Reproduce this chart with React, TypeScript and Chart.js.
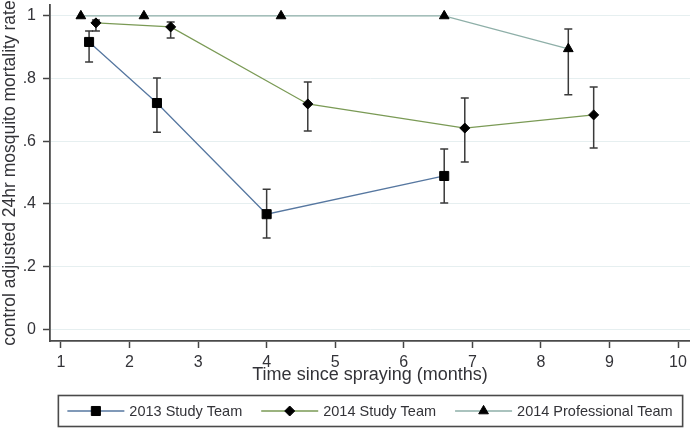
import React, { useEffect, useRef } from "react";
import { Chart, registerables } from "chart.js";
import { drawPoint } from "chart.js/helpers";

Chart.register(...registerables);

// ---- Data ----
const xTicks = [1, 2, 3, 4, 5, 6, 7, 8, 9, 10];
const yTicks = [0, 0.2, 0.4, 0.6, 0.8, 1];
const yTickLabels = ["0", ".2", ".4", ".6", ".8", "1"];
const seriesNames = ["2013 Study Team", "2014 Study Team", "2014 Professional Team"];

const months2013 = [1.41, 2.4, 4.0, 6.59];
const rate2013 = [0.917, 0.722, 0.367, 0.489];
const low2013 = [0.853, 0.629, 0.291, 0.403];
const high2013 = [0.952, 0.802, 0.447, 0.575];

const months2014 = [1.51, 2.6, 4.6, 6.89, 8.77];
const rate2014 = [0.978, 0.965, 0.719, 0.642, 0.684];
const low2014 = [0.952, 0.93, 0.633, 0.534, 0.578];
const high2014 = [0.987, 0.981, 0.789, 0.738, 0.773];

const monthsPro = [1.29, 2.21, 4.21, 6.59, 8.4];
const ratePro = [1.0, 1.0, 1.0, 1.0, 0.895];
const lowPro: (number | null)[] = [null, null, null, null, 0.748];
const highPro: (number | null)[] = [null, null, null, null, 0.958];

const xMin = 0.84;
const xMax = 10.175;
const yMin = -0.038;
const yMax = 1.035;

const FONT = "'Liberation Sans', Arial, sans-serif";
const TEXT = "#333338";

const errorBarPlugin = {
  id: "errorBars",
  beforeDatasetsDraw(chart: any) {
    const { ctx, scales } = chart;
    const xs = scales.x;
    const ys = scales.y;
    ctx.save();
    ctx.strokeStyle = "#3a3a3a";
    ctx.lineWidth = 1.5;
    chart.data.datasets.forEach((ds: any) => {
      const lo = ds.errLow || [];
      const hi = ds.errHigh || [];
      ds.data.forEach((p: any, i: number) => {
        if (lo[i] == null || hi[i] == null) return;
        const px = xs.getPixelForValue(p.x);
        const y1 = ys.getPixelForValue(lo[i]);
        const y2 = ys.getPixelForValue(hi[i]);
        ctx.beginPath();
        ctx.moveTo(px, y1);
        ctx.lineTo(px, y2);
        ctx.moveTo(px - 4, y1);
        ctx.lineTo(px + 4, y1);
        ctx.moveTo(px - 4, y2);
        ctx.lineTo(px + 4, y2);
        ctx.stroke();
      });
    });
    ctx.restore();
  },
};

const legendPlugin = {
  id: "stataLegend",
  afterDraw(chart: any) {
    const { ctx, chartArea } = chart;
    ctx.save();
    ctx.font = `14.5px ${FONT}`;
    const symW = 57;
    const gapText = 5;
    const gapItem = 19;
    const items = chart.data.datasets.map((ds: any) => ({ ds, w: ctx.measureText(ds.label).width }));
    const total =
      items.reduce((s: number, it: any) => s + symW + gapText + it.w, 0) + gapItem * (items.length - 1);
    const cx = (chartArea.left + chartArea.right) / 2;
    let x = cx - total / 2;
    const cy = chart.height - 20;
    // border
    ctx.strokeStyle = "#4a4a4a";
    ctx.lineWidth = 1.6;
    ctx.strokeRect(x - 9, cy - 15.5, total + 19, 31);
    items.forEach((it: any) => {
      const ds = it.ds;
      ctx.strokeStyle = ds.borderColor;
      ctx.lineWidth = 1.3;
      ctx.beginPath();
      ctx.moveTo(x, cy);
      ctx.lineTo(x + symW, cy);
      ctx.stroke();
      ctx.fillStyle = "#000";
      ctx.strokeStyle = "#000";
      ctx.lineWidth = 1;
      drawPoint(ctx, { pointStyle: ds.pointStyle, radius: ds.pointRadius, rotation: 0, borderWidth: 1 }, x + symW / 2, cy);
      ctx.fillStyle = TEXT;
      ctx.textBaseline = "middle";
      ctx.textAlign = "left";
      ctx.fillText(ds.label, x + symW + gapText, cy + 1);
      x += symW + gapText + it.w + gapItem;
    });
    ctx.restore();
  },
};

function makeDataset(
  label: string,
  xs: number[],
  ys: number[],
  lo: (number | null)[],
  hi: (number | null)[],
  color: string,
  style: string,
  radius: number
) {
  return {
    label,
    data: xs.map((x, i) => ({ x, y: ys[i] })),
    errLow: lo,
    errHigh: hi,
    borderColor: color,
    borderWidth: 1.3,
    pointStyle: style,
    pointRadius: radius,
    pointHoverRadius: radius,
    pointBackgroundColor: "#000",
    pointBorderColor: "#000",
    pointBorderWidth: 1,
    tension: 0,
    fill: false,
  };
}

export default function App() {
  const ref = useRef<HTMLCanvasElement | null>(null);

  useEffect(() => {
    if (!ref.current) return;
    const chart = new Chart(ref.current, {
      type: "line",
      data: {
        datasets: [
          makeDataset(seriesNames[0], months2013, rate2013, low2013, high2013, "#5677a0", "rect", 6.4),
          makeDataset(seriesNames[1], months2014, rate2014, low2014, high2014, "#7a9a55", "rectRot", 5),
          makeDataset(seriesNames[2], monthsPro, ratePro, lowPro, highPro, "#8eafa8", "triangle", 5.6),
        ] as any,
      },
      options: {
        animation: false,
        responsive: false,
        maintainAspectRatio: false,
        layout: { autoPadding: false, padding: { top: 5, left: 0, right: 0, bottom: 45 } },
        plugins: {
          legend: { display: false },
          tooltip: { enabled: false },
        },
        scales: {
          x: {
            type: "linear",
            min: xMin,
            max: xMax,
            afterBuildTicks: (s: any) => {
              s.ticks = xTicks.map((v) => ({ value: v }));
            },
            afterFit: (s: any) => {
              s.height = 45;
              s.paddingLeft = 0;
              s.paddingRight = 0;
            },
            ticks: {
              autoSkip: false,
              maxRotation: 0,
              padding: 5,
              color: TEXT,
              font: { family: FONT, size: 16 },
              callback: (v: any) => String(v),
            },
            grid: {
              drawOnChartArea: false,
              drawTicks: true,
              tickLength: 7,
              tickColor: "#444",
              tickWidth: 1.5,
            },
            border: { display: true, color: "#4a4a4a", width: 1.8 },
            title: {
              display: true,
              text: "Time since spraying (months)",
              color: TEXT,
              font: { family: FONT, size: 18 },
              padding: { top: 0, bottom: 0 },
            },
          },
          y: {
            type: "linear",
            min: yMin,
            max: yMax,
            afterBuildTicks: (s: any) => {
              s.ticks = yTicks.map((v) => ({ value: v }));
            },
            afterFit: (s: any) => {
              s.width = 50;
              s.paddingTop = 0;
              s.paddingBottom = 0;
            },
            ticks: {
              autoSkip: false,
              padding: 7,
              color: TEXT,
              font: { family: FONT, size: 16 },
              callback: (v: any) => {
                const idx = yTicks.findIndex((t) => Math.abs(t - v) < 1e-9);
                return idx >= 0 ? yTickLabels[idx] : "";
              },
            },
            grid: {
              display: true,
              drawOnChartArea: true,
              color: "#e6eff0",
              lineWidth: 1,
              drawTicks: true,
              tickLength: 7,
              tickColor: "#444",
              tickWidth: 1.5,
            },
            border: { display: true, color: "#4a4a4a", width: 1.8 },
            title: {
              display: true,
              text: "control adjusted 24hr mosquito mortality rate",
              color: TEXT,
              font: { family: FONT, size: 17.5 },
              padding: { top: 0, bottom: 0 },
            },
          },
        },
      } as any,
      plugins: [errorBarPlugin, legendPlugin],
    });
    return () => chart.destroy();
  }, []);

  return (
    <div style={{ position: "absolute", left: 0, top: 0, width: 690, height: 431, background: "#fff" }}>
      <canvas ref={ref} width={690} height={431} style={{ display: "block" }} />
    </div>
  );
}
